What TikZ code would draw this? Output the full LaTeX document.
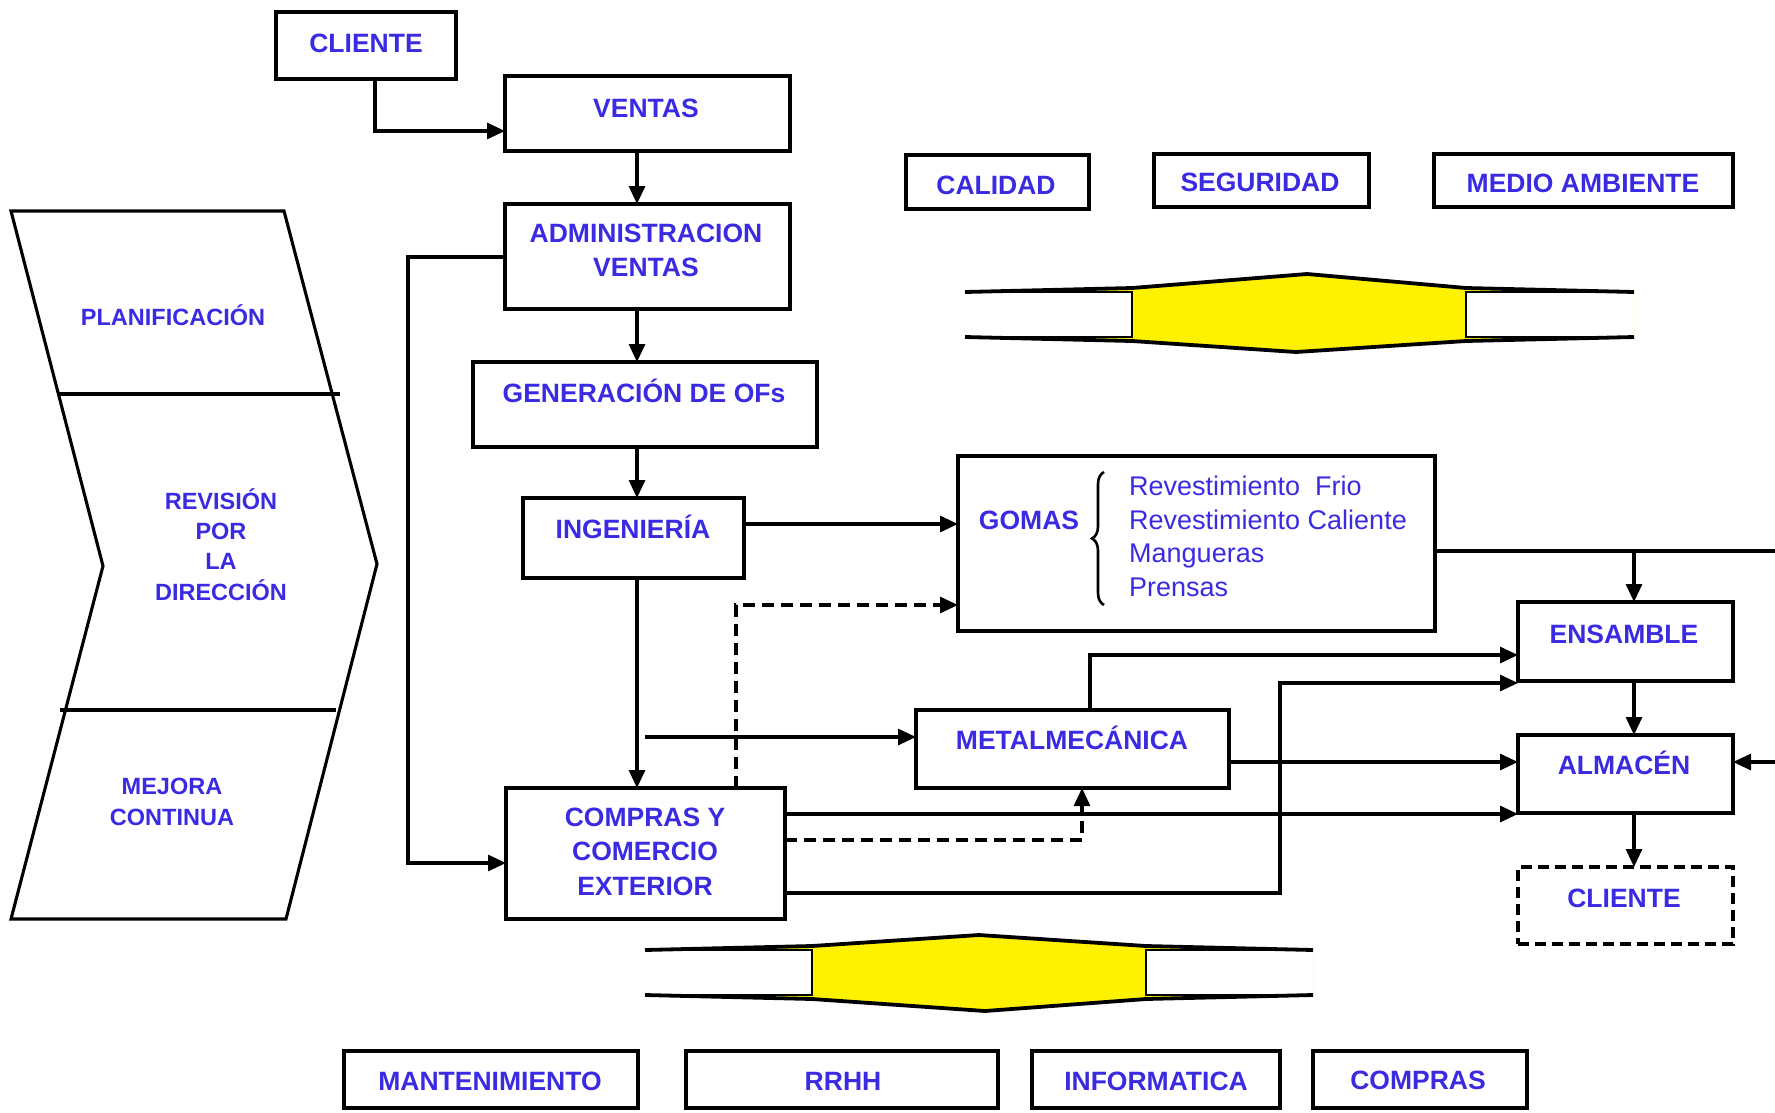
\documentclass[tikz,border=0pt]{standalone}
\usepackage{fontspec}
\setmainfont{Liberation Sans}
\usetikzlibrary{arrows.meta,decorations.pathreplacing}
\definecolor{txtblue}{RGB}{58,42,226}
\begin{document}
\begin{tikzpicture}[x=1pt,y=-1pt,
  box/.style={draw, line width=3.3pt, inner sep=0pt, outer sep=0pt},
  lab/.style={text=txtblue, font=\fontsize{26.5}{34.5}\selectfont\bfseries, align=center, inner sep=0pt},
  one/.style={lab, text height=19pt, text depth=0pt},
  small/.style={font=\fontsize{23.5}{30.3}\selectfont\bfseries},
  arr/.style={line width=3.1pt, -{Triangle[length=18pt,width=16pt]}},
  ln/.style={line width=3.1pt},
  dsh/.style={line width=3.1pt, dash pattern=on 12pt off 7pt},
  pipeline/.style={line width=3.8pt, line join=round},
]
\useasboundingbox (0,0) rectangle (1775,1112);

% ---------- left chevron ----------
\draw[line width=3.1pt, line join=miter] (11,211) -- (284,211) -- (377,564) -- (286,919) -- (11,919) -- (103,566) -- cycle;
\draw[ln] (59,394) -- (340,394);
\draw[ln] (60,710) -- (336,710);
\node[one, small, text height=17pt] (tplan) at (173,317) {PLANIFICACIÓN};
\node[lab, small] (trev) at (221,544.5) {REVISIÓN\\POR\\LA\\DIRECCIÓN};
\node[lab, small] (tmej) at (172,802) {MEJORA\\CONTINUA};

% ---------- pipes ----------
\fill[yellow] (965,292) -- (1132,288) -- (1307,274) -- (1466,288) -- (1634,292) -- (1634,337) -- (1466,341) -- (1296,352) -- (1132,341) -- (965,337) -- cycle;
\fill[white] (965,292) rectangle (1132,337);
\fill[white] (1466,292) rectangle (1634,337);
\draw[pipeline] (965,292) -- (1132,288) -- (1307,274) -- (1466,288) -- (1634,292);
\draw[pipeline] (965,337) -- (1132,341) -- (1296,352) -- (1466,341) -- (1634,337);
\draw[line width=1.2pt] (965,292) -- (1132,292) (965,337) -- (1132,337) (1466,292) -- (1634,292) (1466,337) -- (1634,337);
\draw[line width=2.6pt] (1132,291) -- (1132,338) (1466,291) -- (1466,338);

\fill[yellow] (645,950) -- (812,946) -- (979,935) -- (1146,946) -- (1313,950) -- (1313,995) -- (1146,999) -- (985,1011) -- (812,999) -- (645,995) -- cycle;
\fill[white] (645,950) rectangle (812,995);
\fill[white] (1146,950) rectangle (1313,995);
\draw[pipeline] (645,950) -- (812,946) -- (979,935) -- (1146,946) -- (1313,950);
\draw[pipeline] (645,995) -- (812,999) -- (985,1011) -- (1146,999) -- (1313,995);
\draw[line width=1.2pt] (645,950) -- (812,950) (645,995) -- (812,995) (1146,950) -- (1313,950) (1146,995) -- (1313,995);
\draw[line width=2.6pt] (812,949) -- (812,996) (1146,949) -- (1146,996);

% ---------- boxes ----------
\node[box, minimum width=180pt, minimum height=67pt] (cli1) at (366,45.5) {};
\node[box, minimum width=285pt, minimum height=75pt] (ventas) at (647.5,113.5) {};
\node[box, minimum width=285pt, minimum height=105pt] (admin) at (647.5,256.5) {};
\node[box, minimum width=344pt, minimum height=85pt] (gen) at (645,404.5) {};
\node[box, minimum width=221pt, minimum height=80pt] (ing) at (633.5,538) {};
\node[box, minimum width=279pt, minimum height=131pt] (compras) at (645.5,853.5) {};
\node[box, minimum width=183pt, minimum height=54pt] (calidad) at (997.5,182) {};
\node[box, minimum width=215pt, minimum height=53pt] (seg) at (1261.5,180.5) {};
\node[box, minimum width=299pt, minimum height=53pt] (medio) at (1583.5,180.5) {};
\node[box, minimum width=477pt, minimum height=175pt] (gomas) at (1196.5,543.5) {};
\node[box, minimum width=215pt, minimum height=79pt] (ensamble) at (1625.5,641.5) {};
\node[box, minimum width=215pt, minimum height=78pt] (almacen) at (1625.5,774) {};
\node[box, dash pattern=on 11pt off 6pt, minimum width=215pt, minimum height=77pt] (cli2) at (1625.5,905.5) {};
\node[box, minimum width=313pt, minimum height=78pt] (metal) at (1072.5,749) {};
\node[box, minimum width=294pt, minimum height=57pt] (mant) at (491,1079.5) {};
\node[box, minimum width=312pt, minimum height=57pt] (rrhh) at (842,1079.5) {};
\node[box, minimum width=248pt, minimum height=57pt] (info) at (1156,1079.5) {};
\node[box, minimum width=214pt, minimum height=57pt] (comp2) at (1420,1079.5) {};

% ---------- labels ----------
\node[one] (tcli1) at (366,43) {CLIENTE};
\node[one] (tventas) at (646,108) {VENTAS};
\node[lab] (tadmin) at (646,250.5) {ADMINISTRACION\\VENTAS};
\node[one] (tgen) at (644,393) {GENERACIÓN DE OFs};
\node[one] (ting) at (633,529) {INGENIERÍA};
\node[lab] (tcomp) at (645,851.5) {COMPRAS Y\\COMERCIO\\EXTERIOR};
\node[one] (tcal) at (996,185) {CALIDAD};
\node[one] (tseg) at (1260,182) {SEGURIDAD};
\node[one] (tmed) at (1583,183) {MEDIO AMBIENTE};
\node[one] (tgom) at (1029,520) {GOMAS};
\node[text=txtblue, font=\fontsize{27}{33.5}\selectfont, align=left, anchor=north west, inner sep=0pt] (tlist) at (1129,476) {Revestimiento~ Frio\\Revestimiento Caliente\\Mangueras\\Prensas};
\draw[line width=2.6pt, decorate, decoration={brace, amplitude=12pt}] (1104,605) -- (1104,472);
\node[one] (tens) at (1624,634) {ENSAMBLE};
\node[one] (talm) at (1624,765) {ALMACÉN};
\node[one] (tcli2) at (1624,898) {CLIENTE};
\node[one] (tmet) at (1072,740) {METALMECÁNICA};
\node[one] (tman) at (490,1081) {MANTENIMIENTO};
\node[one] (trrhh) at (843,1081) {RRHH};
\node[one] (tinf) at (1156,1081) {INFORMATICA};
\node[one] (tcmp) at (1418,1080) {COMPRAS};

% ---------- helper coordinates ----------
\coordinate (xA) at (375,0);
\coordinate (ySales) at (0,131);
\coordinate (xSpine) at (637,0);
\coordinate (xLeft) at (408,0);
\coordinate (yAdm) at (0,257);
\coordinate (yCompIn) at (0,863);
\coordinate (yIng) at (0,524);
\coordinate (xDash) at (736,0);
\coordinate (yDash) at (0,605);
\coordinate (yMet) at (0,737);
\coordinate (xMetStart) at (645,0);
\coordinate (yC1) at (0,814);
\coordinate (yC2) at (0,840);
\coordinate (yC3) at (0,893);
\coordinate (xD2) at (1082,0);
\coordinate (xBus) at (1280,0);
\coordinate (yE2) at (0,683);
\coordinate (xMT) at (1090,0);
\coordinate (yE1) at (0,655);
\coordinate (yAlm) at (0,762);
\coordinate (yG) at (0,551);
\coordinate (xR) at (1634,0);
\coordinate (gEnd) at (1775,551);
\coordinate (aEnd) at (1775,762);

% ---------- connectors ----------
\draw[arr] (xA |- cli1.south) |- (ventas.west |- ySales);
\draw[arr] (xSpine |- ventas.south) -- (xSpine |- admin.north);
\draw[arr] (xSpine |- admin.south) -- (xSpine |- gen.north);
\draw[arr] (xSpine |- gen.south) -- (xSpine |- ing.north);
\draw[arr] (xSpine |- ing.south) -- (xSpine |- compras.north);
\draw[arr] (admin.west |- yAdm) -| (xLeft |- yCompIn) -- (compras.west |- yCompIn);
\draw[arr] (ing.east |- yIng) -- (gomas.west |- yIng);
\draw[arr, dsh] (xDash |- compras.north) |- (gomas.west |- yDash);
\draw[arr] (xMetStart |- yMet) -- (metal.west |- yMet);
\draw[arr] (compras.east |- yC1) -- (almacen.west |- yC1);
\draw[arr, dsh] (compras.east |- yC2) -| (xD2 |- metal.south);
\draw[arr] (compras.east |- yC3) -| (xBus |- yE2) -- (ensamble.west |- yE2);
\draw[arr] (xMT |- metal.north) |- (ensamble.west |- yE1);
\draw[arr] (metal.east |- yAlm) -- (almacen.west |- yAlm);
\draw[ln] (gomas.east |- yG) -- (gEnd);
\draw[arr] (xR |- yG) -- (xR |- ensamble.north);
\draw[arr] (xR |- ensamble.south) -- (xR |- almacen.north);
\draw[arr] (xR |- almacen.south) -- (xR |- cli2.north);
\draw[arr] (aEnd) -- (almacen.east |- yAlm);
\end{tikzpicture}
\end{document}
